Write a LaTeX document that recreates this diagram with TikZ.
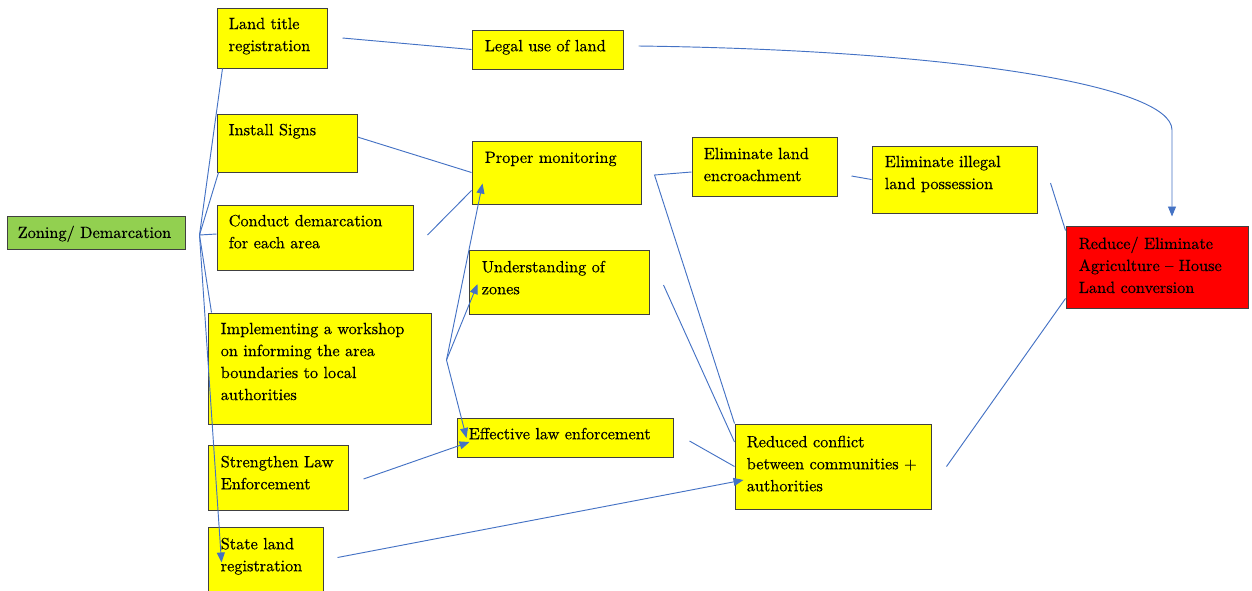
\documentclass[tikz,border=0pt]{standalone}
\usepackage{fontspec}
\newfontfamily\boxfont{lmroman10-regular.otf}[FakeBold=0.4, Ligatures=TeX]
\usetikzlibrary{arrows.meta,calc,fit}
\definecolor{boxyellow}{HTML}{FFFF00}
\definecolor{zonegreen}{HTML}{92D050}
\definecolor{goalred}{HTML}{FF0000}
\definecolor{linkblue}{HTML}{4472C4}
\definecolor{boxedge}{HTML}{404040}

\begin{document}
\begin{tikzpicture}[x=0.75pt,y=-0.75pt,
  box/.style={draw=boxedge, line width=0.75pt, fill=boxyellow, inner sep=0pt},
  txt/.style={anchor=north west, inner sep=0pt, align=left,
    font=\boxfont\fontsize{12.2pt}{16.5pt}\selectfont},
  link/.style={draw=linkblue, line width=0.7pt},
  tip/.style={link, -{Triangle[length=7.5pt,width=6pt]}}
]
\useasboundingbox (0,0) rectangle (1252,590);
\clip (0,0) rectangle (1252,590);

% boxes
\node[box, fill=zonegreen, fit={(7,216) (185,249)}] (zn) {};
\node[box, fit={(217,8) (327,68)}]     (lt) {};
\node[box, fit={(217,114) (357,172)}]  (is) {};
\node[box, fit={(217,205) (413,270)}]  (cd) {};
\node[box, fit={(208,313) (431,424)}]  (ws) {};
\node[box, fit={(208,445) (348,510)}]  (sl) {};
\node[box, fit={(208,527) (323,600)}]  (sr) {};
\node[box, fit={(472,30) (623,69)}]    (lu) {};
\node[box, fit={(472,141) (641,204)}]  (pm) {};
\node[box, fit={(469,250) (649,314)}]  (uz) {};
\node[box, fit={(457,418) (673,457)}]  (ef) {};
\node[box, fit={(735,424) (931,509)}]  (rc) {};
\node[box, fit={(692,137) (837,196)}]  (ee) {};
\node[box, fit={(872,146) (1037,213)}] (il) {};
\node[box, fill=goalred, fit={(1066,226) (1248,308)}] (rd) {};

% box texts
\node[txt] (zn-t) at ($(zn.north west)+(11,10)$) {Zoning/ Demarcation};
\node[txt] (lt-t) at ($(lt.north west)+(12,10)$) {Land title\\registration};
\node[txt] (is-t) at ($(is.north west)+(12,10)$) {Install Signs};
\node[txt] (cd-t) at ($(cd.north west)+(12,10)$) {Conduct demarcation\\for each area};
\node[txt] (ws-t) at ($(ws.north west)+(13,10)$) {Implementing a workshop\\on informing the area\\boundaries to local\\authorities};
\node[txt] (sl-t) at ($(sl.north west)+(13,11)$) {Strengthen Law\\Enforcement};
\node[txt] (sr-t) at ($(sr.north west)+(13,11)$) {State land\\registration};
\node[txt] (lu-t) at ($(lu.north west)+(13,10)$) {Legal use of land};
\node[txt] (pm-t) at ($(pm.north west)+(13,11)$) {Proper monitoring};
\node[txt] (uz-t) at ($(uz.north west)+(13,11)$) {Understanding of\\zones};
\node[txt] (ef-t) at ($(ef.north west)+(12,10)$) {Effective law enforcement};
\node[txt] (rc-t) at ($(rc.north west)+(12,12)$) {Reduced conflict\\between communities +\\authorities};
\node[txt] (ee-t) at ($(ee.north west)+(12,11)$) {Eliminate land\\encroachment};
\node[txt] (il-t) at ($(il.north west)+(13,10)$) {Eliminate illegal\\land possession};
\node[txt] (rd-t) at ($(rd.north west)+(13,11)$) {Reduce/ Eliminate\\Agriculture – House\\Land conversion};

% branching points
\coordinate (zfan) at ($(zn.east)+(14,2.5)$);
\coordinate (wfan) at ($(ws.east)+(15,-8.5)$);
\coordinate (ebend) at ($(ee.west)+(-37,8.5)$);

% connectors from zoning
\draw[link] (zfan) -- ($(lt.south west)+(6,0)$);
\draw[link] (zfan) -- ($(is.south west)+(2,0)$);
\draw[link] (zfan) -- ($(cd.west)+(0,-3.5)$);
\draw[link] (zfan) -- ($(ws.north west)+(4,0)$);
\draw[tip]  (zfan) -- ($(sr.north west)+(14,36)$);

% left column to middle column
\draw[link] ($(lt.east)+(15,0)$) -- (lu.west);
\draw[link] ($(is.east)+(0,-6)$) -- (pm.west);
\draw[link] ($(cd.east)+(14,-2.5)$) -- ($(pm.south west)+(0,-14)$);
\draw[tip]  (wfan) -- ($(pm.south west)+(11,-21)$);
\draw[tip]  (wfan) -- ($(uz.west)+(9,2)$);
\draw[tip]  (wfan) -- ($(ef.west)+(10,0.5)$);
\draw[tip]  ($(sl.east)+(15,1.5)$) -- ($(ef.west)+(13,4.5)$);
\draw[tip]  ($(sr.north east)+(14,31)$) -- ($(rc.west)+(9,13.5)$);

% middle column to outcomes
\draw[link] (rc.north west) -- (ebend) -- ($(ee.west)+(0,5.5)$);
\draw[link] ($(uz.east)+(14,3)$) -- ($(rc.west)+(0,-24.5)$);
\draw[link] ($(ef.east)+(16,3.5)$) -- (rc.west);
\draw[link] ($(rc.east)+(15,0)$) -- ($(rd.south west)+(0,-10)$);
\draw[link] ($(ee.east)+(14,9.5)$) -- (il.west);
\draw[link] ($(il.east)+(13,3.5)$) -- ($(rd.north west)+(0,5)$);
\draw[tip]  ($(lu.east)+(15,-3.5)$) .. controls (950,50) and (1172,85) .. (1172,130)
            -- ($(rd.north)+(15,-9)$);
\end{tikzpicture}
\end{document}
